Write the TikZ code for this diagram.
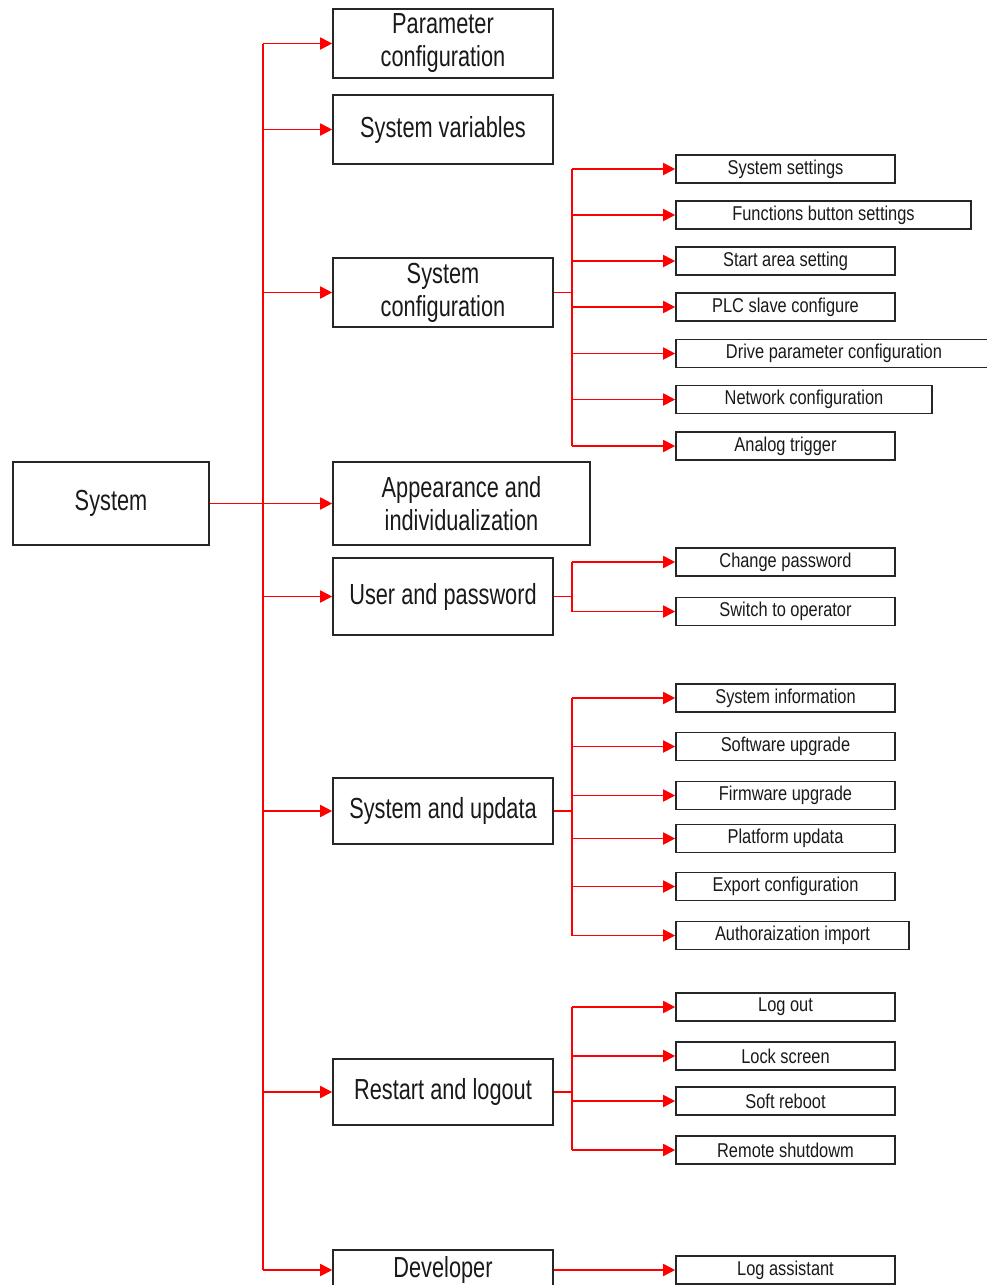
\documentclass[tikz,border=0pt]{standalone}
\usepackage{fontspec}
\setmainfont{Liberation Sans}
\newfontfamily\bigface{Liberation Sans}[FakeStretch=0.75]
\newfontfamily\smallface{Liberation Sans}[FakeStretch=0.82]
\usetikzlibrary{arrows.meta}
\begin{document}
\begin{tikzpicture}[x=1pt,y=-1pt,
  mainbox/.style={draw=black!85, line width=1.6pt, align=center, inner sep=0pt,
    font=\bigface\fontsize{29}{33}\selectfont, text=black!90},
  subbox/.style={draw=black!85, line width=1.6pt, align=center, inner sep=0pt,
    minimum height=28pt, font=\smallface\fontsize{20}{22}\selectfont, text=black!90},
  link/.style={draw=red, line width=1.8pt},
  arr/.style={link, -{Triangle[length=12pt,width=12pt]}}]
\useasboundingbox (0,0) rectangle (987,1285);

% root and first-level boxes
\node[mainbox, minimum width=196pt, minimum height=83pt] (sys)  at (111,503.5) {System};
\node[mainbox, minimum width=220pt, minimum height=69pt] (pc)   at (443,43.5) {Parameter\\configuration};
\node[mainbox, minimum width=220pt, minimum height=69pt] (sv)   at (443,129.5) {System variables};
\node[mainbox, minimum width=220pt, minimum height=69pt] (sc)   at (443,292.5) {System\\configuration};
\node[mainbox, minimum width=257pt, minimum height=83pt] (app)  at (461.5,503.5) {Appearance and\\individualization};
\node[mainbox, minimum width=220pt, minimum height=77pt] (up)   at (443,596.5) {User and password};
\node[mainbox, minimum width=220pt, minimum height=66pt] (su)   at (443,811) {System and updata};
\node[mainbox, minimum width=220pt, minimum height=66pt] (rl)   at (443,1092) {Restart and logout};
\node[mainbox, minimum width=220pt, minimum height=40pt] (dev)  at (443,1270) {Developer};

% second-level boxes
\node[subbox, minimum width=219pt] (s1) at (785.5,169) {System settings};
\node[subbox, minimum width=295pt] (s2) at (823.5,215) {Functions button settings};
\node[subbox, minimum width=219pt] (s3) at (785.5,261) {Start area setting};
\node[subbox, minimum width=219pt] (s4) at (785.5,307) {PLC slave configure};
\node[subbox, minimum width=316pt] (s5) at (834,353.5) {Drive parameter configuration};
\node[subbox, minimum width=256pt] (s6) at (804,399.5) {Network configuration};
\node[subbox, minimum width=219pt] (s7) at (785.5,446) {Analog trigger};

\node[subbox, minimum width=219pt] (u1) at (785.5,562) {Change password};
\node[subbox, minimum width=219pt] (u2) at (785.5,611.5) {Switch to operator};

\node[subbox, minimum width=219pt] (p1) at (785.5,698) {System information};
\node[subbox, minimum width=219pt] (p2) at (785.5,746.5) {Software upgrade};
\node[subbox, minimum width=219pt] (p3) at (785.5,795.5) {Firmware upgrade};
\node[subbox, minimum width=219pt] (p4) at (785.5,838.5) {Platform updata};
\node[subbox, minimum width=219pt] (p5) at (785.5,886.5) {Export configuration};
\node[subbox, minimum width=233pt] (p6) at (792.5,935.5) {Authoraization import};

\node[subbox, minimum width=219pt] (r1) at (785.5,1007) {Log out};
\node[subbox, minimum width=219pt] (r2) at (785.5,1056) {Lock screen};
\node[subbox, minimum width=219pt] (r3) at (785.5,1101) {Soft reboot};
\node[subbox, minimum width=219pt] (r4) at (785.5,1150) {Remote shutdowm};

\node[subbox, minimum width=219pt] (d1) at (785.5,1270) {Log assistant};

% bus positions
\coordinate (tx) at (263,0);
\coordinate (bx) at (572,0);

% main trunk
\draw[link] (pc.west -| tx) -- (dev.west -| tx);
\draw[arr] (sys.east) -- (app.west);
\foreach \n in {pc,sv,sc,up,su,rl,dev}
  \draw[arr] (\n.west -| tx) -- (\n.west);

% System configuration branch
\draw[link] (sc.east) -- (sc.east -| bx);
\draw[link] (s1.west -| bx) -- (s7.west -| bx);
\foreach \n in {s1,s2,s3,s4,s5,s6,s7}
  \draw[arr] (\n.west -| bx) -- (\n.west);

% User and password branch
\draw[link] (up.east) -- (up.east -| bx);
\draw[link] (u1.west -| bx) -- (u2.west -| bx);
\foreach \n in {u1,u2}
  \draw[arr] (\n.west -| bx) -- (\n.west);

% System and updata branch
\draw[link] (su.east) -- (su.east -| bx);
\draw[link] (p1.west -| bx) -- (p6.west -| bx);
\foreach \n in {p1,p2,p3,p4,p5,p6}
  \draw[arr] (\n.west -| bx) -- (\n.west);

% Restart and logout branch
\draw[link] (rl.east) -- (rl.east -| bx);
\draw[link] (r1.west -| bx) -- (r4.west -| bx);
\foreach \n in {r1,r2,r3,r4}
  \draw[arr] (\n.west -| bx) -- (\n.west);

% Developer branch
\draw[arr] (dev.east) -- (d1.west);
\end{tikzpicture}
\end{document}
